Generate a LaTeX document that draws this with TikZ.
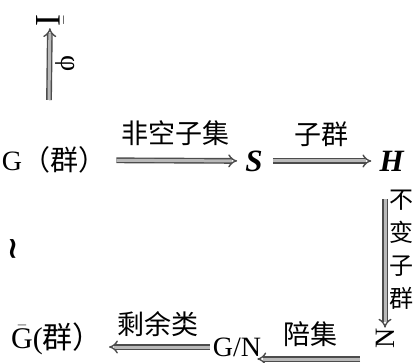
\documentclass[tikz,border=0pt]{standalone}
\usepackage{fontspec}
\setmainfont{Liberation Serif}
\newfontfamily\cjk{Noto Sans CJK SC}
\newfontfamily\sym{DejaVu Sans}
\usetikzlibrary{arrows.meta,positioning}

\begin{document}
\begin{tikzpicture}[x=1pt,y=-1pt]
  \tikzset{obj/.style = {inner sep=0pt, font=\fontsize{28}{30}\selectfont}}
  \tikzset{lab/.style = {inner sep=0pt, font=\cjk\fontsize{27}{33}\selectfont}}
  \tikzset{dbl/.style = {draw=black!70, double=gray!55, double distance=3pt, line width=1.4pt, -{Implies}, shorten <=10pt, shorten >=8pt}}
  \useasboundingbox (0,0) rectangle (414,363);

	\node[obj] (G) at (54,160) {G\cjk（群）};
	\node[obj, font=\fontsize{31}{31}\selectfont] (S) at (254,161) {\textbf{\textit{S}}};
	\node[obj, font=\fontsize{31}{31}\selectfont] (H) at (392,161) {\textbf{\textit{H}}};
	\node[obj, rotate=90] (N) at (385,338) {N};
	\node[obj] (GN) at (237,347) {G/N};
	\node[obj, font=\fontsize{30}{30}\selectfont] (Gbar) at (57,339) {$\bar{\textrm{G}}$(\cjk 群）};
	\node[obj, font=\fontsize{36}{36}\selectfont, rotate=-90] (Ibar) at (50,20) {$\bar{\textrm{I}}$};
	\node[obj, font=\sym\bfseries\fontsize{30}{30}\selectfont, rotate=90] (iso) at (16,249) {∼};
	\coordinate (phifoot) at (49,100);
	\coordinate (cosetfoot) at (360,359);

    \foreach \from/\to/\txt in {G/S/非空子集, S/H/子群}
    \draw[dbl] (\from) -- node [lab, above=14pt]{\txt} (\to);

    \draw[dbl, shorten <=0pt, shorten >=2pt] (phifoot) -- node [obj, rotate=-90, anchor=south, inner sep=5pt]{φ} (Ibar);
    \draw[dbl, shorten <=28pt, shorten >=0pt] (H.south -| N) -- node [lab, font=\cjk\fontsize{24}{33}\selectfont, right=4pt, align=center]{不\\变\\子\\群} (N);

    \draw[dbl, shorten <=0pt, shorten >=-4pt] (cosetfoot) -- node [lab, above=12pt]{陪集} (cosetfoot -| GN.east);
    \draw[dbl, shorten <=3pt, shorten >=6pt] (GN.west) -- node [lab, above=10pt]{剩余类} (GN.west -| Gbar.east);

\end{tikzpicture}
\end{document}
